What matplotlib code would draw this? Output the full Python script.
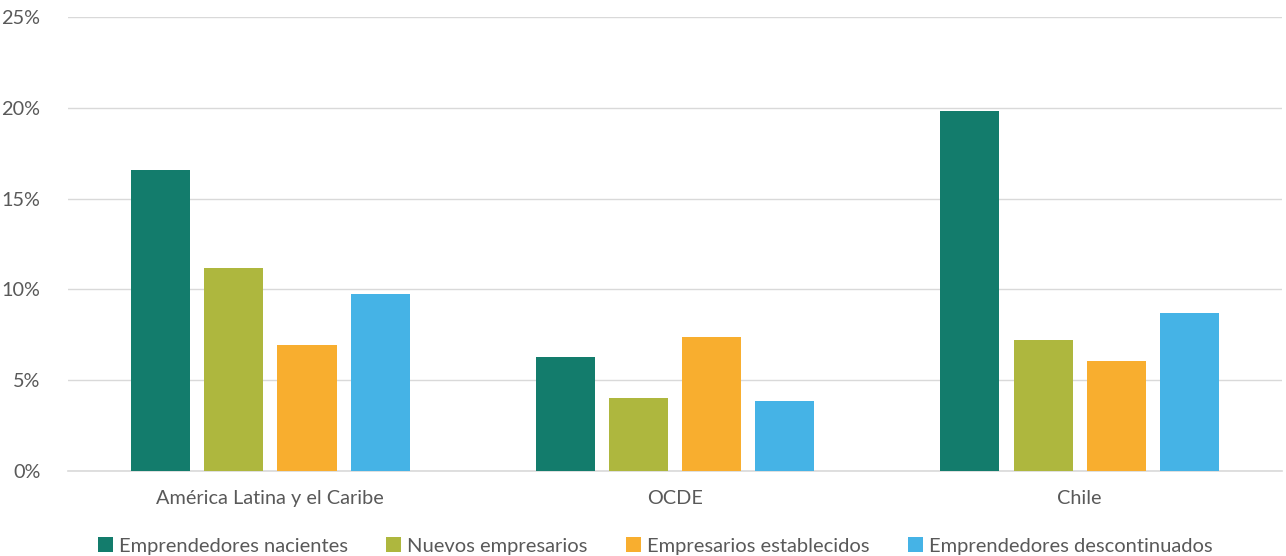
import numpy as np
import matplotlib.pyplot as plt
import matplotlib.ticker as ticker

plt.rcParams['font.family'] = ['Lato', 'DejaVu Sans']

regiones = ['América Latina y el Caribe', 'OCDE', 'Chile']
series = ['Emprendedores nacientes', 'Nuevos empresarios',
          'Empresarios establecidos', 'Emprendedores descontinuados']
nacientes = [16.6, 6.3, 19.85]
nuevos = [11.2, 4.0, 7.2]
establecidos = [6.95, 7.4, 6.05]
descontinuados = [9.75, 3.85, 8.7]
colores = ['#137C6C', '#AEB73E', '#F8AE2F', '#45B3E6']

gris = '#595959'
fig = plt.figure(figsize=(12.86, 5.56), dpi=100)
ax = fig.add_axes([0.0529, 0.1529, 0.944, 0.8165])

x = np.arange(len(regiones))
w = 0.146
paso = 0.181
for i, (vals, nom) in enumerate(zip([nacientes, nuevos, establecidos, descontinuados], series)):
    ax.bar(x + (i - 1.5) * paso, vals, w, color=colores[i], label=nom, zorder=3)

ax.set_xlim(-0.5, 2.5)
ax.set_ylim(0, 25)
ax.yaxis.set_major_locator(ticker.MultipleLocator(5))
ax.yaxis.set_major_formatter(ticker.FuncFormatter(lambda v, p: f'{v:.0f}%'))
ax.grid(axis='y', color='#D9D9D9', lw=1, zorder=0)
for s in ['top', 'right', 'left']:
    ax.spines[s].set_visible(False)
ax.spines['bottom'].set_color('#D9D9D9')
ax.spines['bottom'].set_linewidth(1.2)
ax.set_xticks(x)
ax.set_xticklabels(regiones)
ax.tick_params(axis='both', length=0, colors=gris, labelsize=14.3)
ax.tick_params(axis='x', pad=14)
ax.tick_params(axis='y', pad=20)

ax.legend(loc='center', bbox_to_anchor=(0.4835, -0.165), ncol=4, frameon=False,
          fontsize=14.5, labelcolor=gris, handlelength=0.75, handleheight=0.75,
          handletextpad=0.3, columnspacing=1.9, borderpad=0.2)

fig.savefig('out.png', dpi=100)
